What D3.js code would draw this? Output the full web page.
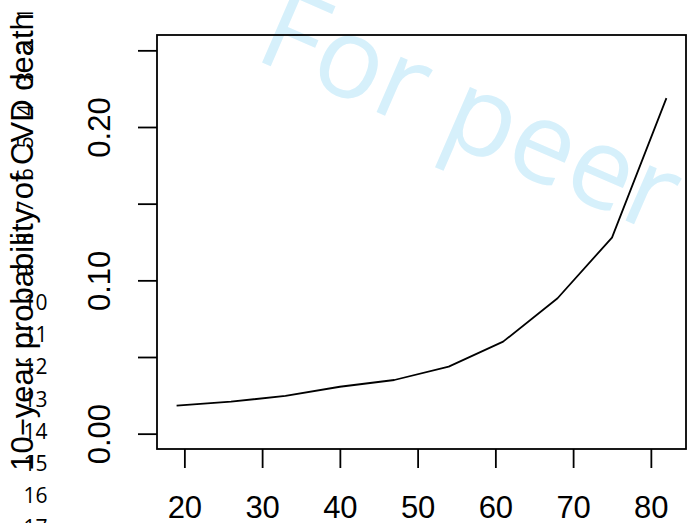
<!DOCTYPE html>
<html>
<head>
<meta charset="utf-8">
<script src="https://cdn.jsdelivr.net/npm/d3@7"></script>
<style>
  html, body { margin: 0; padding: 0; background: #fff; }
  svg { display: block; }
</style>
</head>
<body>
<svg id="chart" width="687" height="523"></svg>
<script>
// Age (years) and predicted 10-year probability of CVD death
const ages = [19, 26, 33, 40, 47, 54, 61, 68, 75, 82];
const probability = [0.0183, 0.0209, 0.0246, 0.0306, 0.0350, 0.0437, 0.0600, 0.0883, 0.1279, 0.2188];

const xTicks = [20, 30, 40, 50, 60, 70, 80];
const yTicks = [0, 0.05, 0.10, 0.15, 0.20, 0.25];
const yTickLabels = ["0.00", "", "0.10", "", "0.20", ""];

const yTitle = "10\u2212year probability of CVD death";
const watermark = "For peer";
const lineNumbers = [1, 2, 3, 4, 5, 6, 7, 8, 9, 10, 11, 12, 13, 14, 15, 16, 17];

const svg = d3.select("#chart");
const box = { left: 157, right: 686, top: 35, bottom: 449 };
const font = "'Liberation Sans', Arial, sans-serif";
const fontSize = 31;

// R-style 4% padding around the data range
const xMin = d3.min(ages), xMax = d3.max(ages);
const xPad = (xMax - xMin) * 0.04;
const x = d3.scaleLinear().domain([xMin - xPad, xMax + xPad]).range([box.left, box.right]);
const yLo = 0, yHi = 0.25, yPad = (yHi - yLo) * 0.04;
const y = d3.scaleLinear().domain([yLo - yPad, yHi + yPad]).range([box.bottom, box.top]);

// Watermark
svg.append("text")
  .attr("transform", "translate(252,58) rotate(23.5)")
  .attr("font-family", "'Open Sans', sans-serif")
  .attr("font-size", 113)
  .attr("fill", "#d6f0fb")
  .text(watermark);

// Plot frame
svg.append("rect")
  .attr("x", box.left).attr("y", box.top)
  .attr("width", box.right - box.left).attr("height", box.bottom - box.top)
  .attr("fill", "none").attr("stroke", "#000").attr("stroke-width", 1.8);

// Bottom axis
const xAxis = svg.append("g")
  .attr("transform", `translate(0,${box.bottom})`)
  .call(d3.axisBottom(x).tickValues(xTicks).tickSize(19).tickPadding(0).tickFormat(d3.format("d")));
xAxis.select(".domain").remove();
xAxis.selectAll(".tick line").attr("stroke", "#000").attr("stroke-width", 1.8);
xAxis.selectAll(".tick text")
  .attr("font-family", font).attr("font-size", fontSize).attr("fill", "#000")
  .attr("y", 518 - box.bottom).attr("dy", 0);

// Left axis with rotated labels
const yAxis = svg.append("g")
  .attr("transform", `translate(${box.left},0)`)
  .call(d3.axisLeft(y).tickValues(yTicks).tickSize(19).tickFormat((d, i) => yTickLabels[i]));
yAxis.select(".domain").remove();
yAxis.selectAll(".tick line").attr("stroke", "#000").attr("stroke-width", 1.8);
yAxis.selectAll(".tick text")
  .attr("font-family", font).attr("font-size", fontSize).attr("fill", "#000")
  .attr("x", 0).attr("dy", 0)
  .attr("text-anchor", "middle")
  .attr("transform", `translate(${110 - box.left},0) rotate(-90)`);

// Probability curve
const line = d3.line().x((d, i) => x(ages[i])).y(d => y(d));
svg.append("path")
  .datum(probability)
  .attr("d", line)
  .attr("fill", "none")
  .attr("stroke", "#000")
  .attr("stroke-width", 1.8)
  .attr("stroke-linejoin", "round");

// Y axis title
const midY = (box.top + box.bottom) / 2;
svg.append("text")
  .attr("transform", `translate(33,${midY}) rotate(-90)`)
  .attr("text-anchor", "middle")
  .attr("font-family", font).attr("font-size", fontSize).attr("fill", "#000")
  .text(yTitle);

// Margin line numbers
const lnY = n => 302.7 + (n - 10) * 32.1;
const ln = svg.append("g")
  .attr("font-family", "'Open Sans', sans-serif")
  .attr("font-size", 21)
  .attr("fill", "#000");
ln.selectAll("text.up")
  .data(lineNumbers.filter(n => n >= 10))
  .join("text")
  .attr("class", "up")
  .attr("x", 47.5)
  .attr("y", n => lnY(n) + 7.5)
  .attr("text-anchor", "end")
  .text(n => n);
ln.selectAll("text.rot")
  .data(lineNumbers.filter(n => n < 10))
  .join("text")
  .attr("class", "rot")
  .attr("text-anchor", "middle")
  .attr("transform", n => `translate(33,${lnY(n)}) rotate(-90)`)
  .text(n => n);
</script>
</body>
</html>
